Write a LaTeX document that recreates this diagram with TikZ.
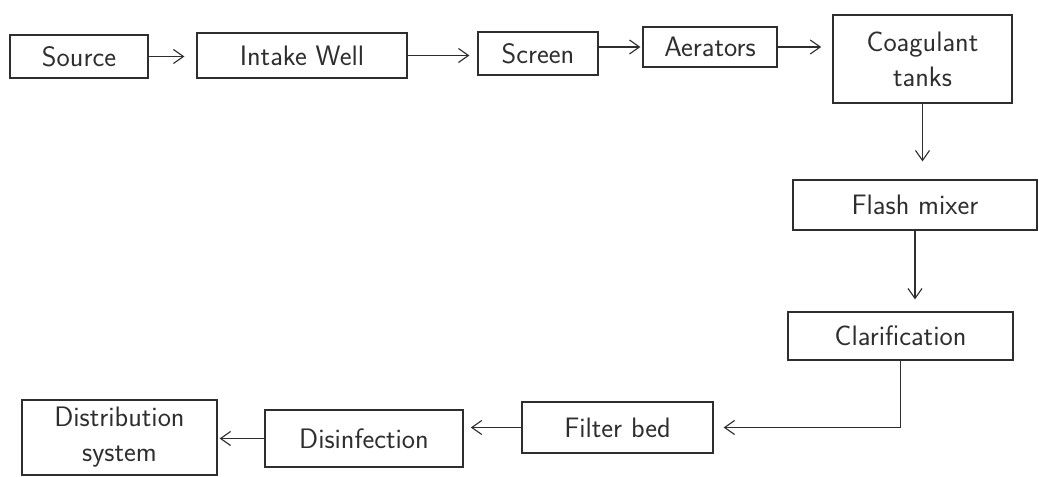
\documentclass[tikz,border=0pt]{standalone}
\usetikzlibrary{arrows.meta}
\definecolor{ink}{HTML}{2E2E2E}
\begin{document}
\begin{tikzpicture}[x=0.025cm,y=-0.025cm,
  box/.style={draw=ink, line width=0.8pt, inner sep=0pt, align=center,
    font=\sffamily\fontsize{20}{25}\selectfont, text=ink},
  arr/.style={draw=ink, line width=0.8pt, -{Straight Barb[length=2.5mm,width=3.5mm]}},
]
\useasboundingbox (0,0) rectangle (1039,477);
\node[box, minimum width=3.45cm,  minimum height=1.075cm] (src)    at (79,56.5)   {Source};
\node[box, minimum width=5.25cm,  minimum height=1.125cm] (intake) at (302,55.5)  {Intake Well};
\node[box, minimum width=3.0cm,   minimum height=1.075cm] (screen) at (538,53.5)  {Screen};
\node[box, minimum width=3.35cm,  minimum height=1.0cm]   (aer)    at (710,47)    {Aerators};
\node[box, minimum width=4.475cm, minimum height=2.2cm]   (coag)   at (922.5,59)  {Coagulant\\tanks};
\node[box, minimum width=6.1cm,   minimum height=1.25cm]  (flash)  at (915,205)   {Flash mixer};
\node[box, minimum width=5.625cm, minimum height=1.2cm]   (clar)   at (900.5,336) {Clarification};
\node[box, minimum width=4.775cm, minimum height=1.275cm] (filter) at (617.5,427.5) {Filter bed};
\node[box, minimum width=4.95cm,  minimum height=1.425cm] (disinf) at (364,438.5) {Disinfection};
\node[box, minimum width=4.875cm, minimum height=1.875cm] (dist)   at (119.5,437.5) {Distribution\\system};

\draw[arr, shorten >=0.3cm] (src.east) -- (src.east -| intake.west);
\draw[arr, shorten >=0.2cm] (intake.east) -- (intake.east -| screen.west);
\draw[arr, shorten >=0.05cm] (aer.west -| screen.east) -- (aer.west);
\draw[arr, shorten >=0.28cm] (aer.east) -- (aer.east -| coag.west);
\draw[arr, shorten >=0.45cm] (coag.south) -- (coag.south |- flash.north);
\draw[arr, shorten >=0.3cm] (flash.south) -- (flash.south |- clar.north);
\draw[arr, shorten >=0.25cm] (clar.south) -- (clar.south |- filter.east) -- (filter.east);
\draw[arr, shorten >=0.18cm] (filter.west) -- (filter.west -| disinf.east);
\draw[arr, shorten >=0.05cm] (disinf.west) -- (disinf.west -| dist.east);
\end{tikzpicture}
\end{document}
